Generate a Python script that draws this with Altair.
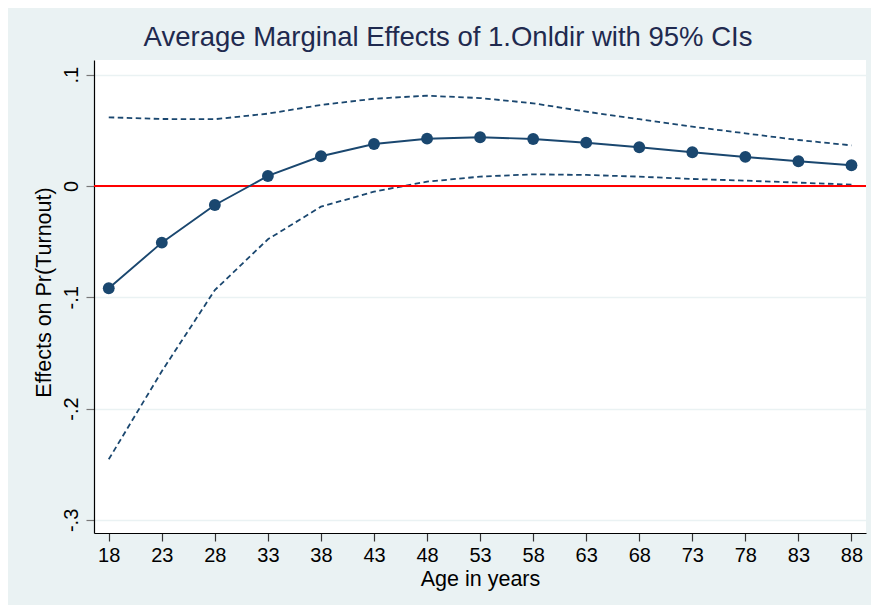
import altair as alt
import pandas as pd

ages = [18, 23, 28, 33, 38, 43, 48, 53, 58, 63, 68, 73, 78, 83, 88]
effect = [-0.0919, -0.0509, -0.0171, 0.0090, 0.0267, 0.0377, 0.0425, 0.0438,
          0.0422, 0.0389, 0.0348, 0.0303, 0.0261, 0.0222, 0.0186]
upper = [0.0617, 0.0602, 0.0600, 0.0650, 0.0728, 0.0784, 0.0811, 0.0790,
         0.0743, 0.0668, 0.0600, 0.0533, 0.0473, 0.0413, 0.0365]
lower = [-0.2456, -0.1665, -0.0935, -0.0479, -0.0186, -0.0051, 0.0039, 0.0084,
         0.0105, 0.0099, 0.0084, 0.0063, 0.0048, 0.0030, 0.0012]
y_ticks = [-0.3, -0.2, -0.1, 0.0, 0.1]

NAVY = "#1A476F"
BG = "#EAF2F3"
FONT = "Liberation Sans"

df = pd.DataFrame({"age": ages, "effect": effect, "upper": upper, "lower": lower})

x_scale = alt.Scale(domain=[16.61, 89.37], nice=False, zero=False)
y_scale = alt.Scale(domain=[-0.3118, 0.1132], nice=False, zero=False)

y_label_expr = ("datum.value == 0 ? '0' : (datum.value < 0 ? '-' + substring(format(-datum.value, '.1f'), 1)"
                " : substring(format(datum.value, '.1f'), 1))")

x_axis = alt.Axis(values=ages, format="d", grid=False, tickSize=8, tickColor="#333333",
                  tickWidth=1.2, domainColor="#000000", domainWidth=1.2,
                  labelFont=FONT, labelFontSize=20, labelColor="#000000", labelPadding=4,
                  title="Age in years", titleFont=FONT, titleFontSize=21.5,
                  titleFontWeight="normal", titleColor="#000000",
                  titleY=52, titleBaseline="alphabetic")
y_axis = alt.Axis(values=y_ticks, labelExpr=y_label_expr, grid=True, gridColor=BG,
                  gridWidth=1.6, tickSize=8, tickColor="#777777", tickWidth=1.2,
                  domainColor="#000000", domainWidth=1.2,
                  labelAngle=-90, labelAlign="center", labelBaseline="alphabetic",
                  labelFont=FONT, labelFontSize=20, labelColor="#000000", labelPadding=9,
                  title="Effects on Pr(Turnout)", titleFont=FONT, titleFontSize=21.5,
                  titleFontWeight="normal", titleColor="#000000",
                  titleAngle=-90, titleX=-44, titleY=232, titleAlign="center",
                  titleBaseline="alphabetic")

base = alt.Chart(df)

upper_line = base.mark_line(color=NAVY, strokeWidth=1.8, strokeDash=[5.5, 3.5]).encode(
    x=alt.X("age:Q", scale=x_scale, axis=x_axis),
    y=alt.Y("upper:Q", scale=y_scale, axis=y_axis),
)
lower_line = base.mark_line(color=NAVY, strokeWidth=1.8, strokeDash=[5.5, 3.5]).encode(
    x=alt.X("age:Q", scale=x_scale),
    y=alt.Y("lower:Q", scale=y_scale),
)
zero_rule = alt.Chart(pd.DataFrame({"y": [0.0]})).mark_rule(color="#FF0000", strokeWidth=2).encode(
    y=alt.Y("y:Q", scale=y_scale)
)
mean_line = base.mark_line(color=NAVY, strokeWidth=1.9).encode(
    x=alt.X("age:Q", scale=x_scale),
    y=alt.Y("effect:Q", scale=y_scale),
)
mean_pts = base.mark_circle(color=NAVY, opacity=1, size=140).encode(
    x=alt.X("age:Q", scale=x_scale),
    y=alt.Y("effect:Q", scale=y_scale),
)

chart = alt.layer(upper_line, lower_line, zero_rule, mean_line, mean_pts).properties(
    width=772,
    height=473,
    title=alt.TitleParams("Average Marginal Effects of 1.Onldir with 95% CIs", font=FONT,
                          fontSize=27.5, fontWeight="normal", color="#1F2A4F",
                          anchor="middle", frame="group", dx=-32, dy=24, offset=11,
                          baseline="alphabetic"),
    background=BG,
    padding={"left": 86, "top": 52, "right": 5, "bottom": 72},
    autosize=alt.AutoSizeParams(type="none"),
).configure_view(fill="white", stroke=None)

chart.save("out.html", embed_options={"renderer": "svg", "actions": False})
